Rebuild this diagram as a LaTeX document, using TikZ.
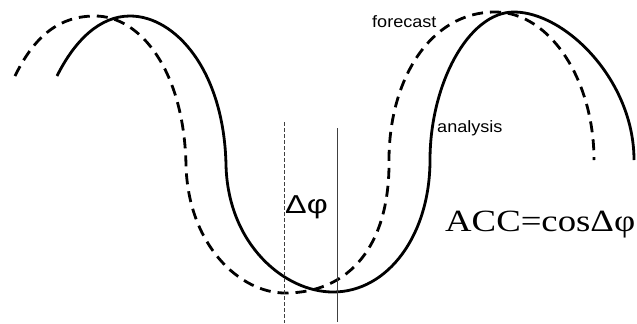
\documentclass[tikz,border=0pt]{standalone}
\usepackage{fontspec}
\setmainfont{Liberation Serif}
\newfontfamily\arialfont{Liberation Sans}
\begin{document}
\begin{tikzpicture}[x=1bp,y=-1bp,
  curve/.style={line width=2.8bp,line cap=butt},
  fcst/.style={curve,dash pattern=on 11bp off 7bp},
  thinline/.style={line width=0.8bp,draw=black!75},
  lbl/.style={inner sep=0pt,anchor=base west,font=\arialfont\fontsize{16.5}{18}\selectfont},
]
\useasboundingbox (0,0) rectangle (637,323);
% analysis (solid)
\draw[curve] (57,76) .. controls (75,40) and (100,16) .. (130,16)
  .. controls (175,16) and (224,70) .. (226,165)
  .. controls (228,245) and (285,292) .. (333,292)
  .. controls (388,292) and (430,235) .. (430,160)
  .. controls (430,85) and (468,12) .. (514,12)
  .. controls (565,12) and (634,80) .. (634,160);
% forecast (dashed)
\draw[fcst] (15,76) .. controls (35,35) and (60,16) .. (95,16)
  .. controls (140,16) and (184,70) .. (186,165)
  .. controls (188,245) and (240,293) .. (285,293)
  .. controls (350,293) and (390,245) .. (389,160)
  .. controls (389,80) and (430,12) .. (495,12)
  .. controls (550,12) and (594,80) .. (594,160);
% phase lines
\draw[thinline,dash pattern=on 4bp off 2bp] (284,122) -- (284,323);
\draw[thinline] (337,128) -- (337,322);
% labels
\node[lbl] (fc) at (372,27) {\scalebox{1.1}[1]{forecast}};
\node[lbl] (an) at (437,132) {\scalebox{1.1}[1]{analysis}};
\node[inner sep=0pt,anchor=base west,font=\arialfont\fontsize{26}{28}\selectfont] (dphi) at (285,213) {\scalebox{1.25}[1]{Δφ}};
\node[inner sep=0pt,anchor=base west,font=\fontsize{31}{33}\selectfont] (acc) at (445,231) {\scalebox{1.19}[1]{ACC=cosΔφ}};
\end{tikzpicture}
\end{document}
